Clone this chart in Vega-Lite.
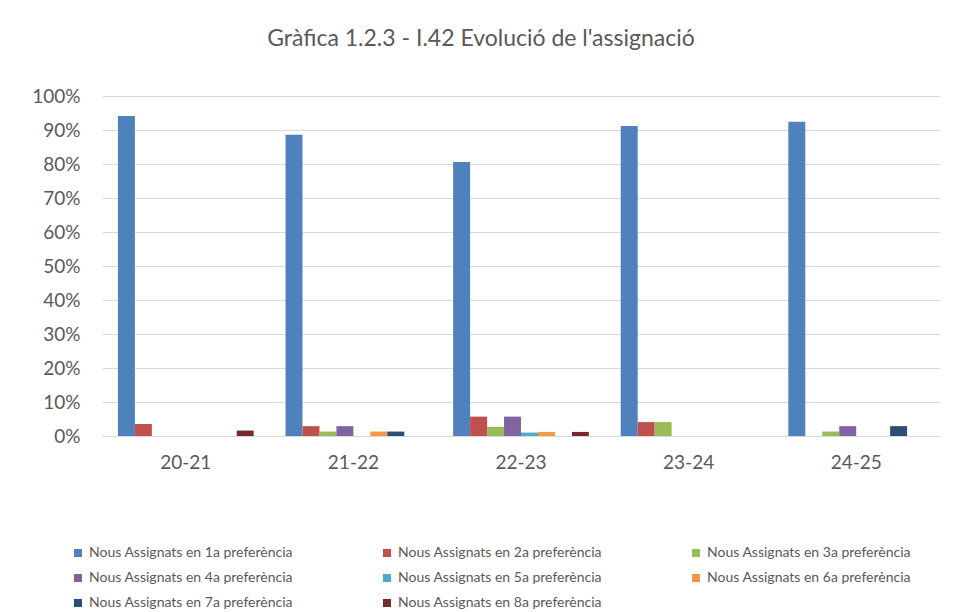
{
  "$schema": "https://vega.github.io/schema/vega-lite/v6.json",
  "width": 838,
  "height": 340,
  "autosize": "none",
  "padding": {"left": 102, "top": 96, "right": 20, "bottom": 176},
  "background": "white",
  "title": {
    "text": "Gràfica 1.2.3 - I.42 Evolució de l'assignació",
    "font": "Lato",
    "fontSize": 23,
    "fontWeight": "normal",
    "color": "#595959",
    "anchor": "middle",
    "dx": -40,
    "offset": 36
  },
  "config": {
    "view": {"stroke": null},
    "font": "Lato"
  },
  "data": {
    "values": [
      {"curs": "20-21", "serie": "Nous Assignats en 1a preferència", "valor": 0.941},
      {"curs": "20-21", "serie": "Nous Assignats en 2a preferència", "valor": 0.035},
      {"curs": "20-21", "serie": "Nous Assignats en 8a preferència", "valor": 0.016},
      {"curs": "21-22", "serie": "Nous Assignats en 1a preferència", "valor": 0.886},
      {"curs": "21-22", "serie": "Nous Assignats en 2a preferència", "valor": 0.029},
      {"curs": "21-22", "serie": "Nous Assignats en 3a preferència", "valor": 0.013},
      {"curs": "21-22", "serie": "Nous Assignats en 4a preferència", "valor": 0.029},
      {"curs": "21-22", "serie": "Nous Assignats en 6a preferència", "valor": 0.013},
      {"curs": "21-22", "serie": "Nous Assignats en 7a preferència", "valor": 0.013},
      {"curs": "22-23", "serie": "Nous Assignats en 1a preferència", "valor": 0.806},
      {"curs": "22-23", "serie": "Nous Assignats en 2a preferència", "valor": 0.057},
      {"curs": "22-23", "serie": "Nous Assignats en 3a preferència", "valor": 0.027},
      {"curs": "22-23", "serie": "Nous Assignats en 4a preferència", "valor": 0.057},
      {"curs": "22-23", "serie": "Nous Assignats en 5a preferència", "valor": 0.010},
      {"curs": "22-23", "serie": "Nous Assignats en 6a preferència", "valor": 0.012},
      {"curs": "22-23", "serie": "Nous Assignats en 8a preferència", "valor": 0.012},
      {"curs": "23-24", "serie": "Nous Assignats en 1a preferència", "valor": 0.912},
      {"curs": "23-24", "serie": "Nous Assignats en 2a preferència", "valor": 0.041},
      {"curs": "23-24", "serie": "Nous Assignats en 3a preferència", "valor": 0.041},
      {"curs": "24-25", "serie": "Nous Assignats en 1a preferència", "valor": 0.924},
      {"curs": "24-25", "serie": "Nous Assignats en 3a preferència", "valor": 0.013},
      {"curs": "24-25", "serie": "Nous Assignats en 4a preferència", "valor": 0.029},
      {"curs": "24-25", "serie": "Nous Assignats en 7a preferència", "valor": 0.029}
    ]
  },
  "mark": {"type": "bar"},
  "encoding": {
    "x": {
      "field": "curs",
      "type": "nominal",
      "sort": ["20-21", "21-22", "22-23", "23-24", "24-25"],
      "scale": {"paddingInner": 0.19, "paddingOuter": 0.095},
      "axis": {
        "title": null,
        "labelAngle": 0,
        "labelFontSize": 19,
        "labelColor": "#595959",
        "labelPadding": 17,
        "ticks": false,
        "domain": true,
        "domainColor": "#D9D9D9",
        "domainWidth": 1
      }
    },
    "xOffset": {
      "field": "serie",
      "type": "nominal",
      "scale": {
        "domain": [
          "Nous Assignats en 1a preferència",
          "Nous Assignats en 2a preferència",
          "Nous Assignats en 3a preferència",
          "Nous Assignats en 4a preferència",
          "Nous Assignats en 5a preferència",
          "Nous Assignats en 6a preferència",
          "Nous Assignats en 7a preferència",
          "Nous Assignats en 8a preferència"
        ],
        "paddingInner": 0,
        "paddingOuter": 0
      }
    },
    "y": {
      "field": "valor",
      "type": "quantitative",
      "scale": {"domain": [0, 1]},
      "axis": {
        "title": null,
        "format": ".0%",
        "values": [0, 0.1, 0.2, 0.3, 0.4, 0.5, 0.6, 0.7, 0.8, 0.9, 1],
        "labelFontSize": 19,
        "labelColor": "#595959",
        "labelPadding": 22,
        "ticks": false,
        "domain": false,
        "grid": true,
        "gridColor": "#D9D9D9",
        "gridWidth": 1
      }
    },
    "color": {
      "field": "serie",
      "type": "nominal",
      "scale": {
        "domain": [
          "Nous Assignats en 1a preferència",
          "Nous Assignats en 2a preferència",
          "Nous Assignats en 3a preferència",
          "Nous Assignats en 4a preferència",
          "Nous Assignats en 5a preferència",
          "Nous Assignats en 6a preferència",
          "Nous Assignats en 7a preferència",
          "Nous Assignats en 8a preferència"
        ],
        "range": ["#4F81BD", "#C0504D", "#9BBB59", "#8064A2", "#4BACC6", "#F79646", "#2C4D75", "#772C2A"]
      },
      "legend": {
        "title": null,
        "orient": "none",
        "direction": "horizontal",
        "legendX": -31,
        "legendY": 450,
        "columns": 3,
        "columnPadding": 87,
        "rowPadding": 11,
        "symbolType": "square",
        "symbolSize": 64,
        "symbolStrokeWidth": 0,
        "labelFontSize": 14,
        "labelColor": "#595959",
        "labelOffset": 4,
        "labelLimit": 400
      }
    }
  }
}
